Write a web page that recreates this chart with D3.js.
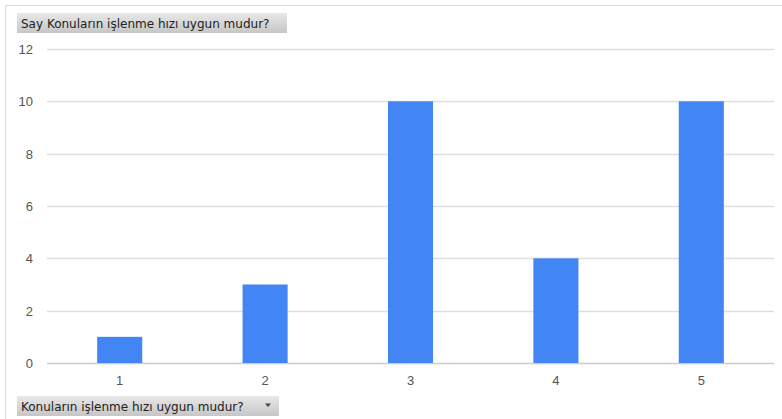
<!DOCTYPE html>
<html><head><meta charset="utf-8">
<script src="https://cdn.jsdelivr.net/npm/d3@7"></script>
<style>body{margin:0;background:#fff;}svg{display:block;}</style>
</head><body>
<svg id="c" width="782" height="419"></svg>
<script>
const categories = ["1","2","3","4","5"];
const values = [1,3,10,4,10];
const yTicks = [0,2,4,6,8,10,12];
const titleText = "Say Konuların işlenme hızı uygun mudur?";
const axisTitle = "Konuların işlenme hızı uygun mudur?";

const svg = d3.select("#c");
const defs = svg.append("defs");
const g1 = defs.append("linearGradient").attr("id","gb").attr("x1",0).attr("y1",0).attr("x2",0).attr("y2",1);
g1.append("stop").attr("offset","0%").attr("stop-color","#e8e8e8");
g1.append("stop").attr("offset","100%").attr("stop-color","#c6c6c6");

// outer border
svg.append("line").attr("x1",5).attr("x2",782).attr("y1",5.5).attr("y2",5.5).attr("stroke","#d9d9d9");
svg.append("line").attr("x1",5.5).attr("x2",5.5).attr("y1",5).attr("y2",419).attr("stroke","#d9d9d9");

const x = d3.scaleBand().domain(categories).range([47,774]).paddingInner(0.69).paddingOuter(0.345);
const y = d3.scaleLinear().domain([0,12]).range([363,49]);

// gridlines
svg.append("g").selectAll("line").data(yTicks).join("line")
  .attr("x1",47).attr("x2",774)
  .attr("y1",d=>Math.round(y(d))+0.5).attr("y2",d=>Math.round(y(d))+0.5)
  .attr("stroke",d=>d===0?"#cccccc":"#dedede").attr("stroke-width",1.5);

// y labels
svg.append("g").selectAll("text").data(yTicks).join("text")
  .attr("x",33).attr("y",d=>y(d)+5).attr("text-anchor","end")
  .attr("font-family","Liberation Sans, Arial, sans-serif").attr("font-size",13).attr("fill","#555")
  .text(d=>d);

// bars
svg.append("g").selectAll("rect").data(values).join("rect")
  .attr("x",(d,i)=>x(categories[i])).attr("width",x.bandwidth())
  .attr("y",d=>y(d)).attr("height",d=>y(0)-y(d))
  .attr("fill","#4285f4");

// x labels
svg.append("g").selectAll("text").data(categories).join("text")
  .attr("x",d=>x(d)+x.bandwidth()/2).attr("y",385).attr("text-anchor","middle")
  .attr("font-family","Liberation Sans, Arial, sans-serif").attr("font-size",13).attr("fill","#555")
  .text(d=>d);

// title box
svg.append("rect").attr("x",17).attr("y",13).attr("width",270).attr("height",20).attr("fill","url(#gb)");
svg.append("text").attr("x",21).attr("y",27.5)
  .attr("font-family","DejaVu Sans, Verdana, sans-serif").attr("font-size",12).attr("fill","#222")
  .text(titleText);

// axis title box
svg.append("rect").attr("x",17).attr("y",396).attr("width",262).attr("height",20).attr("fill","url(#gb)");
svg.append("text").attr("x",21).attr("y",410.5)
  .attr("font-family","DejaVu Sans, Verdana, sans-serif").attr("font-size",12).attr("fill","#222")
  .text(axisTitle);
svg.append("path").attr("d","M265,403.5 L271,403.5 L268,407 Z").attr("fill","#444");
</script>
</body></html>
